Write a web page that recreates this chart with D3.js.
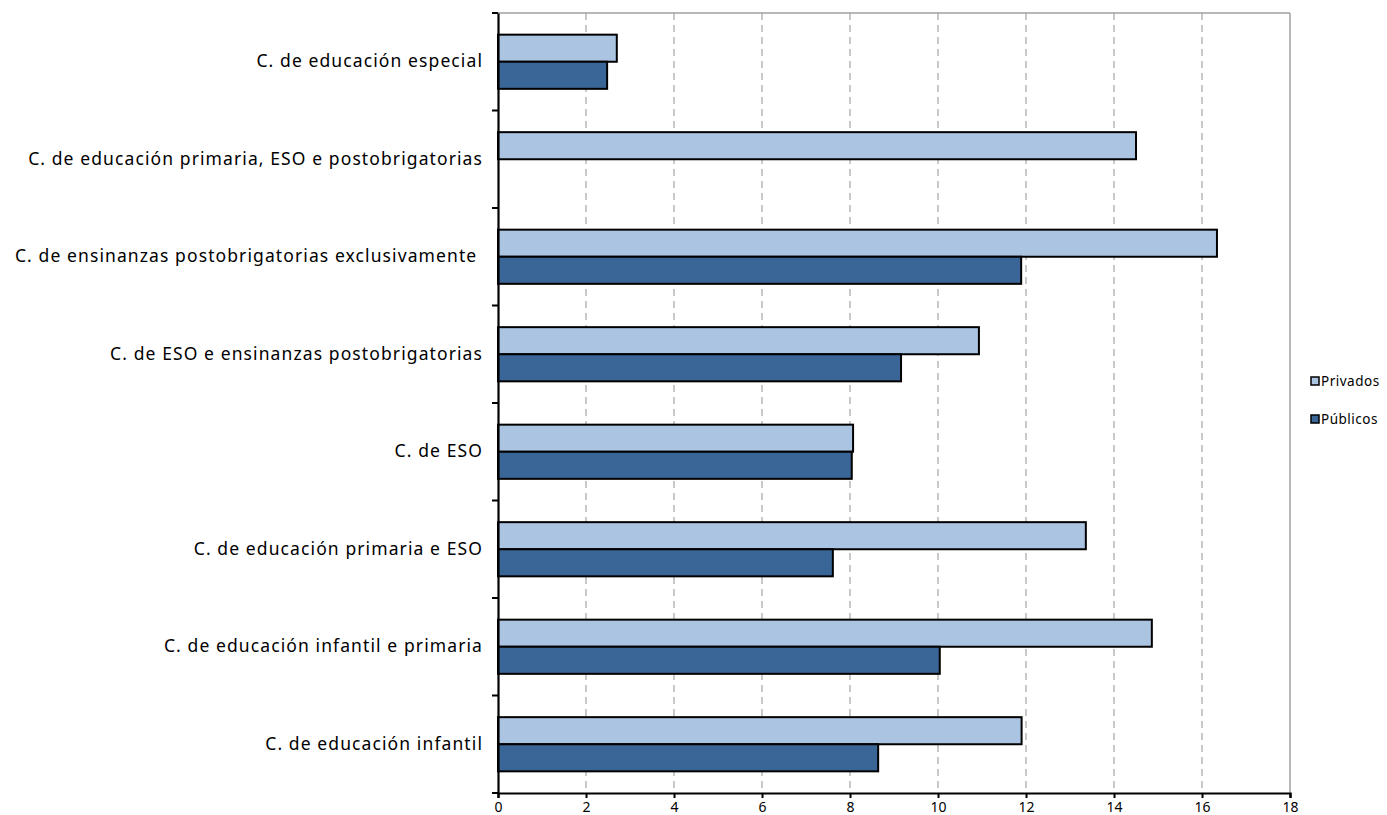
<!DOCTYPE html>
<html><head><meta charset="utf-8">
<script src="https://cdn.jsdelivr.net/npm/d3@7"></script>
<style>body{margin:0;background:#fff}svg{display:block}</style>
</head><body>
<svg id="c" width="1387" height="815"></svg>
<script>
const categories = [
  "C. de educación especial",
  "C. de educación primaria, ESO e postobrigatorias",
  "C. de ensinanzas postobrigatorias exclusivamente ",
  "C. de ESO e ensinanzas postobrigatorias",
  "C. de ESO",
  "C. de educación primaria e ESO",
  "C. de educación infantil e primaria",
  "C. de educación infantil"
];
const privados = [2.70, 14.50, 16.34, 10.93, 8.07, 13.36, 14.86, 11.90];
const publicos = [2.48, 0, 11.89, 9.16, 8.04, 7.61, 10.04, 8.64];
const seriesNames = ["Privados", "Públicos"];
const xTicks = [0,2,4,6,8,10,12,14,16,18];
const colors = {"Privados":"#abc4e2", "Públicos":"#3a6597"};

const svg = d3.select("#c");
const m = {l:498, r:1290, t:13, b:793};
const x = d3.scaleLinear().domain([0,18]).range([m.l, m.r]);
const y = d3.scaleBand().domain(categories).range([m.t, m.b]);
const inner = d3.scaleBand().domain(seriesNames).range([0, y.bandwidth()]).paddingOuter(0.8).paddingInner(0);

// grid
svg.append("g").selectAll("line").data(xTicks.filter(d=>d>0 && d<18)).join("line")
  .attr("x1", d=>x(d)).attr("x2", d=>x(d)).attr("y1", m.t).attr("y2", m.b)
  .attr("stroke", "#b8b8b8").attr("stroke-width", 1.5).attr("stroke-dasharray", "7,5");
// top and right border
svg.append("line").attr("x1", m.l).attr("x2", m.r).attr("y1", m.t).attr("y2", m.t).attr("stroke", "#a0a0a0").attr("stroke-width", 1.5);
svg.append("line").attr("x1", m.r).attr("x2", m.r).attr("y1", m.t).attr("y2", m.b).attr("stroke", "#a0a0a0").attr("stroke-width", 1.5);

// bars
const data = categories.map((c,i)=>({c, vals:[{s:"Privados", v:privados[i]},{s:"Públicos", v:publicos[i]}]}));
const g = svg.append("g").selectAll("g").data(data).join("g").attr("transform", d=>`translate(0,${y(d.c)})`);
g.selectAll("rect").data(d=>d.vals.filter(v=>v.v>0)).join("rect")
  .attr("x", x(0)).attr("y", d=>inner(d.s)).attr("width", d=>x(d.v)-x(0)).attr("height", inner.bandwidth())
  .attr("fill", d=>colors[d.s]).attr("stroke", "#000").attr("stroke-width", 2);

// y axis
const ya = d3.axisLeft(y).tickSize(0).tickPadding(15);
const yg = svg.append("g").attr("transform", `translate(${m.l},0)`).call(ya);
yg.select(".domain").attr("stroke", "#000").attr("stroke-width", 2.2);
yg.selectAll("text").attr("font-family", "Noto Sans").attr("font-size", 17.5).attr("letter-spacing", "1.1px").attr("fill", "#000").attr("dy", "0.3em").style("white-space", "pre");
// band boundary ticks
const bounds = d3.range(categories.length+1).map(i=>m.t + i*y.step());
svg.append("g").selectAll("line").data(bounds).join("line")
  .attr("x1", m.l-6).attr("x2", m.l).attr("y1", d=>d).attr("y2", d=>d).attr("stroke", "#000").attr("stroke-width", 2);

// x axis
const xa = d3.axisBottom(x).tickValues(xTicks).tickSize(5).tickPadding(4).tickFormat(d3.format("d"));
const xg = svg.append("g").attr("transform", `translate(0,${m.b})`).call(xa);
xg.select(".domain").attr("stroke", "#000").attr("stroke-width", 2.2);
xg.selectAll(".tick line").attr("stroke", "#000").attr("stroke-width", 2);
xg.selectAll("text").attr("font-family", "Noto Sans").attr("font-size", 14).attr("fill", "#000");

// legend
const lg = svg.append("g").selectAll("g").data(seriesNames).join("g").attr("transform", (d,i)=>`translate(1311,${381 + i*38})`);
lg.append("rect").attr("x", 0).attr("y", -4).attr("width", 8).attr("height", 8).attr("fill", d=>colors[d]).attr("stroke", "#000").attr("stroke-width", 1.5);
lg.append("text").attr("x", 10).attr("y", 0).attr("dy", "0.35em").text(d=>d)
  .attr("font-family", "Noto Sans").attr("font-size", 13.5).attr("letter-spacing", "0.5px").attr("fill", "#000");
</script>
</body></html>
